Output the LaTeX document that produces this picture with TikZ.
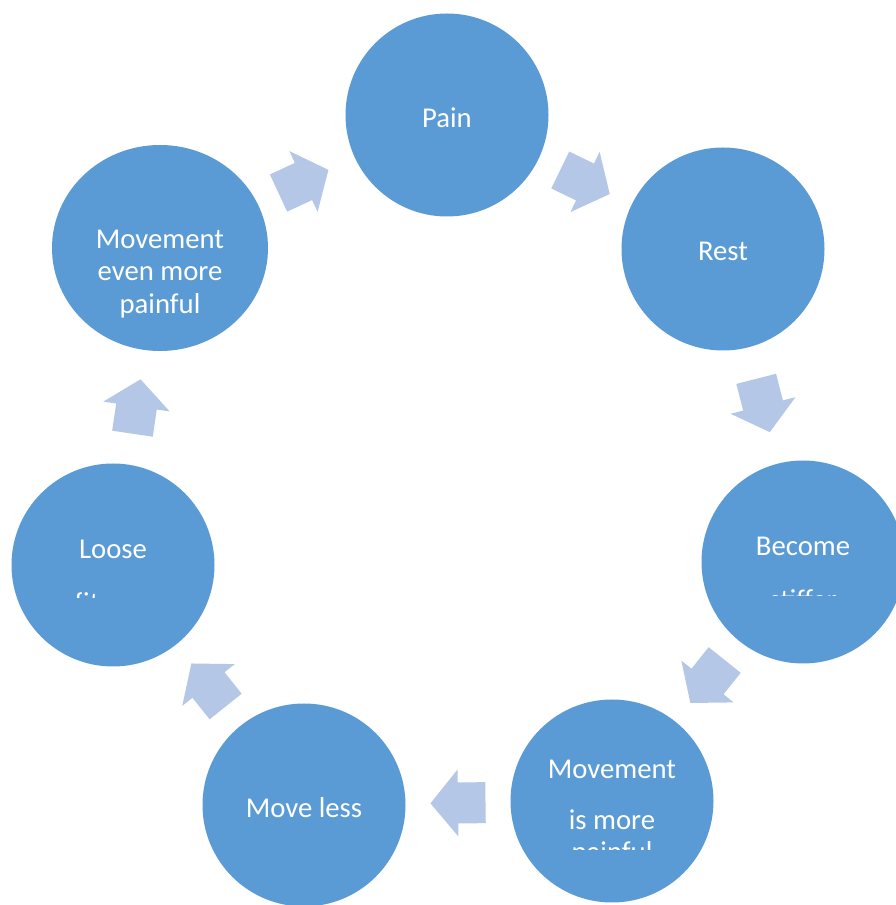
\documentclass[tikz,border=0pt]{standalone}
\usepackage{fontspec}
\setmainfont{Carlito}
\usetikzlibrary{calc,shapes.geometric}
\definecolor{stageblue}{RGB}{91,155,213}
\definecolor{arrowblue}{RGB}{180,199,231}
\tikzset{
  stage/.style={ellipse, fill=stageblue, minimum width=203pt, minimum height=203pt, inner sep=0pt, text=white, font=\fontsize{28.7}{32.5}\selectfont},
  stagetext/.style={text=white, align=center, inner sep=0pt, anchor=base, font=\fontsize{28.7}{32.5}\selectfont},
  cyclearrow/.pic={\fill[arrowblue] (-27.5,-20.5) -- (0,-20.5) -- (0,-33.5) -- (27.5,0) -- (0,33.5) -- (0,20.5) -- (-27.5,20.5) -- cycle;}
}
\newcommand{\cyclestep}[2]{\path let \p1=($(#2)-(#1)$), \n1={atan2(\y1,\x1)} in pic[rotate=\n1] at ($(#1)!0.5!(#2)$) {cyclearrow};}
\begin{document}
\begin{tikzpicture}[x=1pt, y=1pt]
    \clip (0,0) rectangle (896,905);
    \fill[white] (0,0) rectangle (896,905);
    \node[stage] (pain) at (447,790) {};
    \node[stage] (rest) at (723,656) {};
    \node[stage] (stiffer) at (803,343) {};
    \node[stage] (morepainful) at (612,104) {};
    \node[stage] (moveless) at (304,100) {};
    \node[stage] (loose) at (113,340) {};
    \node[stage, minimum width=216pt, minimum height=206pt] (evenmore) at (160,657) {};
    \node[stagetext] (pain-a) at (447,777) {Pain};
    \node[stagetext] (rest-a) at (723,644) {Rest};
    \node[stagetext] (moveless-a) at (304,87) {Move less};
    \node[stagetext, anchor=center] (evenmore-t) at (160,631) {Movement\\even more\\painful};
    \node[stagetext] (stiffer-a) at (803,349) {Become};
    \node[stagetext] (loose-a) at (113,346) {Loose};
    \node[stagetext] (morepainful-a) at (612,126) {Movement};
    \node[stagetext] (morepainful-b) at (612,75) {is more};
    % second lines cut off in the original
    \begin{scope}
        \clip (700,309.5) rectangle (900,460);
        \node[stagetext] (stiffer-b) at (803,295.5) {stiffer};
    \end{scope}
    \begin{scope}
        \clip (10,307) rectangle (215,470);
        \node[stagetext] (loose-b) at (113,292) {fitness};
    \end{scope}
    \begin{scope}
        \clip (510,55) rectangle (715,205);
        \node[stagetext] (morepainful-c) at (612,43) {painful};
    \end{scope}
    % arrows round the cycle
    \cyclestep{pain}{rest}
    \cyclestep{rest}{stiffer}
    \cyclestep{stiffer}{morepainful}
    \cyclestep{morepainful}{moveless}
    \cyclestep{moveless}{loose}
    \cyclestep{loose}{evenmore}
    \cyclestep{evenmore}{pain}
\end{tikzpicture}
\end{document}
